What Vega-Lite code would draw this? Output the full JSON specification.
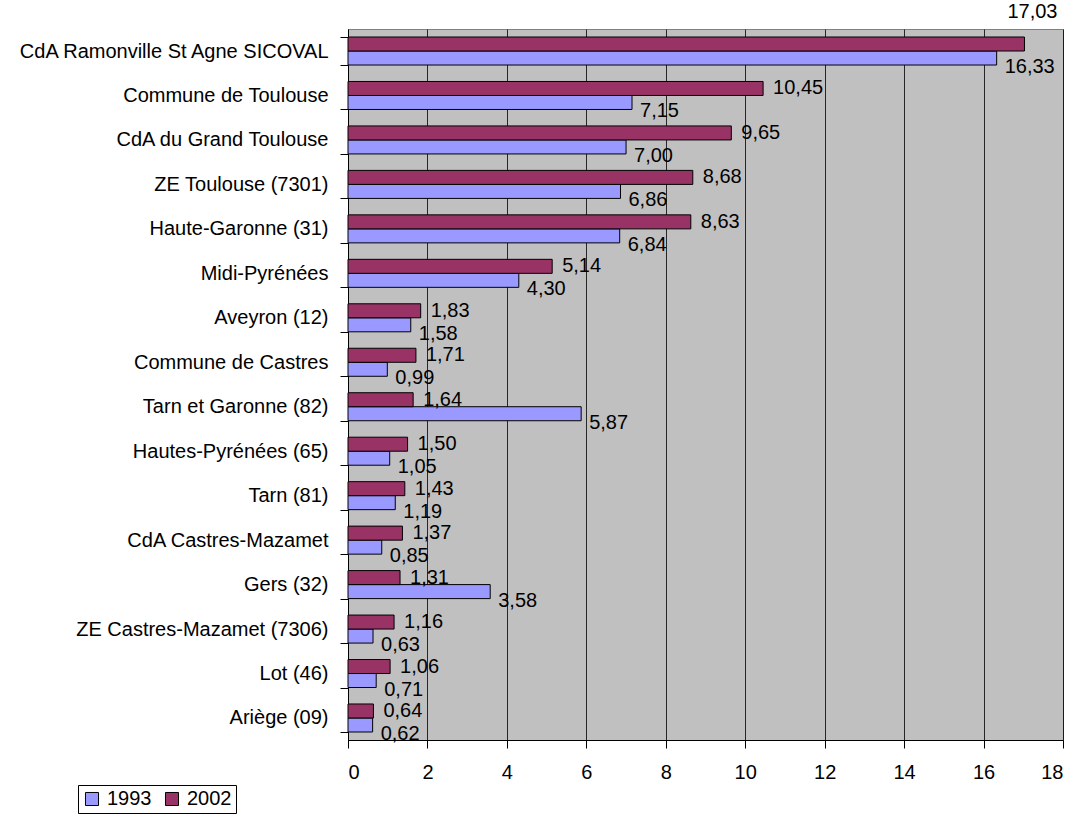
{
  "$schema": "https://vega.github.io/schema/vega-lite/v6.json",
  "width": 715,
  "height": 711,
  "autosize": {"type": "none"},
  "padding": {"left": 348, "top": 29, "right": 14, "bottom": 76},
  "background": "white",
  "config": {
    "font": "Liberation Sans",
    "view": {"fill": "#C0C0C0", "stroke": "#808080", "strokeWidth": 1},
    "locale": {"number": {"decimal": ",", "thousands": " ", "grouping": [3], "currency": ["", " €"]}}
  },
  "data": {
    "values": [
      {"region": "CdA Ramonville St Agne SICOVAL", "year": "1993", "value": 16.33},
      {"region": "CdA Ramonville St Agne SICOVAL", "year": "2002", "value": 17.03},
      {"region": "Commune de Toulouse", "year": "1993", "value": 7.15},
      {"region": "Commune de Toulouse", "year": "2002", "value": 10.45},
      {"region": "CdA du Grand Toulouse", "year": "1993", "value": 7.00},
      {"region": "CdA du Grand Toulouse", "year": "2002", "value": 9.65},
      {"region": "ZE Toulouse (7301)", "year": "1993", "value": 6.86},
      {"region": "ZE Toulouse (7301)", "year": "2002", "value": 8.68},
      {"region": "Haute-Garonne (31)", "year": "1993", "value": 6.84},
      {"region": "Haute-Garonne (31)", "year": "2002", "value": 8.63},
      {"region": "Midi-Pyrénées", "year": "1993", "value": 4.30},
      {"region": "Midi-Pyrénées", "year": "2002", "value": 5.14},
      {"region": "Aveyron (12)", "year": "1993", "value": 1.58},
      {"region": "Aveyron (12)", "year": "2002", "value": 1.83},
      {"region": "Commune de Castres", "year": "1993", "value": 0.99},
      {"region": "Commune de Castres", "year": "2002", "value": 1.71},
      {"region": "Tarn et Garonne (82)", "year": "1993", "value": 5.87},
      {"region": "Tarn et Garonne (82)", "year": "2002", "value": 1.64},
      {"region": "Hautes-Pyrénées (65)", "year": "1993", "value": 1.05},
      {"region": "Hautes-Pyrénées (65)", "year": "2002", "value": 1.50},
      {"region": "Tarn (81)", "year": "1993", "value": 1.19},
      {"region": "Tarn (81)", "year": "2002", "value": 1.43},
      {"region": "CdA Castres-Mazamet", "year": "1993", "value": 0.85},
      {"region": "CdA Castres-Mazamet", "year": "2002", "value": 1.37},
      {"region": "Gers (32)", "year": "1993", "value": 3.58},
      {"region": "Gers (32)", "year": "2002", "value": 1.31},
      {"region": "ZE Castres-Mazamet (7306)", "year": "1993", "value": 0.63},
      {"region": "ZE Castres-Mazamet (7306)", "year": "2002", "value": 1.16},
      {"region": "Lot (46)", "year": "1993", "value": 0.71},
      {"region": "Lot (46)", "year": "2002", "value": 1.06},
      {"region": "Ariège (09)", "year": "1993", "value": 0.62},
      {"region": "Ariège (09)", "year": "2002", "value": 0.64}
    ]
  },
  "encoding": {
    "y": {
      "field": "region",
      "type": "nominal",
      "sort": null,
      "scale": {"paddingInner": 0.37, "paddingOuter": 0.18},
      "axis": {
        "title": null,
        "tickBand": "extent",
        "tickSize": 8,
        "tickColor": "black",
        "domainColor": "black",
        "labelPadding": 12,
        "labelFontSize": 20,
        "labelColor": "black",
        "labelLimit": 400
      }
    },
    "yOffset": {"field": "year", "type": "nominal", "sort": ["2002", "1993"]},
    "x": {
      "field": "value",
      "type": "quantitative",
      "scale": {"domain": [0, 18], "nice": false},
      "axis": {
        "title": null,
        "values": [0, 2, 4, 6, 8, 10, 12, 14, 16, 18],
        "format": "d",
        "grid": true,
        "gridColor": "#000000",
        "gridOpacity": 0.8,
        "tickSize": 8,
        "tickColor": "black",
        "domainColor": "black",
        "labelPadding": 14,
        "labelFontSize": 20,
        "labelColor": "black"
      }
    }
  },
  "layer": [
    {
      "mark": {"type": "bar", "stroke": "black", "strokeWidth": 1},
      "encoding": {
        "color": {
          "field": "year",
          "type": "nominal",
          "scale": {"domain": ["1993", "2002"], "range": ["#9999FF", "#993366"]},
          "legend": {
            "title": null,
            "orient": "none",
            "legendX": -270,
            "legendY": 756,
            "direction": "horizontal",
            "symbolType": "square",
            "symbolSize": 170,
            "symbolStrokeColor": "black",
            "symbolStrokeWidth": 1,
            "labelFontSize": 20,
            "labelColor": "black",
            "strokeColor": "black",
            "fillColor": "white",
            "padding": 4,
            "columnPadding": 10,
            "labelOffset": 5
          }
        }
      }
    },
    {
      "transform": [{"filter": "datum.year === '2002' && datum.value < 16"}],
      "mark": {"type": "text", "align": "left", "baseline": "middle", "dx": 10, "fontSize": 20, "color": "black"},
      "encoding": {"text": {"field": "value", "type": "quantitative", "format": ".2f"}}
    },
    {
      "transform": [{"filter": "datum.year === '2002' && datum.value >= 16"}],
      "mark": {"type": "text", "align": "center", "baseline": "middle", "dx": 8, "dy": -32, "fontSize": 20, "color": "black"},
      "encoding": {"text": {"field": "value", "type": "quantitative", "format": ".2f"}}
    },
    {
      "transform": [{"filter": "datum.year === '1993'"}],
      "mark": {"type": "text", "align": "left", "baseline": "middle", "dx": 8, "dy": 9, "fontSize": 20, "color": "black"},
      "encoding": {"text": {"field": "value", "type": "quantitative", "format": ".2f"}}
    }
  ]
}
